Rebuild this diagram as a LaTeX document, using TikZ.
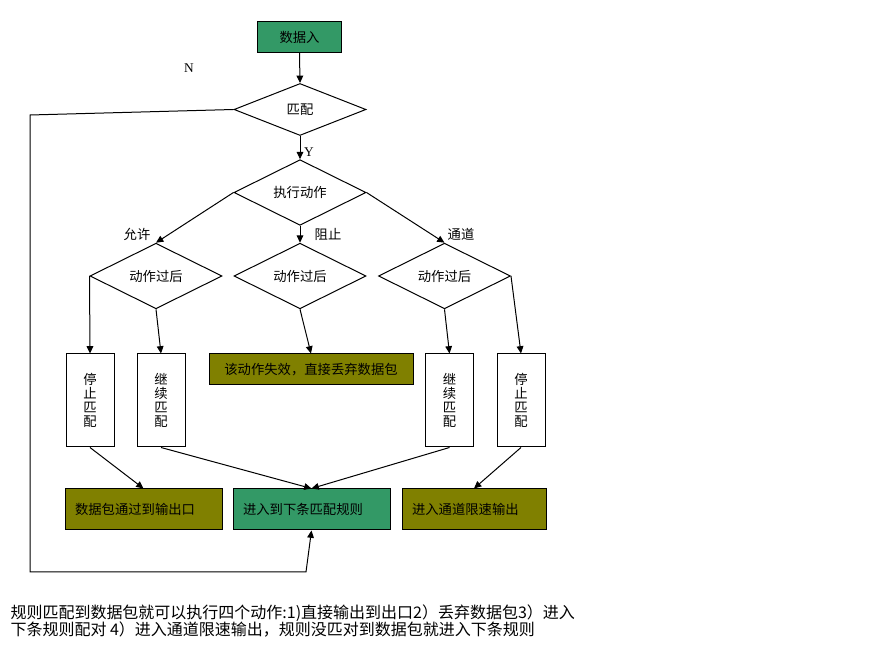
\documentclass[tikz,border=0pt]{standalone}
\usepackage{fontspec}
\setmainfont{Noto Sans CJK SC}
\newfontfamily\latinserif{Liberation Serif}
\usetikzlibrary{shapes.geometric,arrows.meta}

\definecolor{boxgreen}{RGB}{51,153,102}
\definecolor{boxolive}{RGB}{128,128,0}

\begin{document}
\begin{tikzpicture}[x=0.75pt, y=-0.75pt, line width=0.75pt,
    font=\fontsize{10pt}{12pt}\selectfont, >={Triangle[length=5.5pt,width=5pt]},
    decision/.style={draw, diamond, inner sep=0pt, minimum width=99pt, minimum height=39pt},
    vbox/.style={draw, align=center, inner sep=0pt, minimum width=36pt, minimum height=69.75pt,
      font=\fontsize{10pt}{10.5pt}\selectfont},
    endbox/.style={draw, align=left, inner xsep=7.5pt, minimum height=30.75pt}]
    \useasboundingbox (0,0) rectangle (869,666);

    \node[draw, fill=boxgreen, minimum width=63pt, minimum height=23.25pt] (in) at (299.5,37) {数据入};
    \node[decision] (match) at (300,109.5) {匹配};
    \node[decision] (act) at (300,192.5) {执行动作};
    \foreach \i/\x in {1/156, 2/300, 3/444.5} {
      \node[decision] (d\i) at (\x,276) {动作过后};
    }

    \node[vbox] (b1) at (90,400.5) {停\\止\\匹\\配};
    \node[vbox] (b2) at (161,400.5) {继\\续\\匹\\配};
    \node[draw, fill=boxolive, minimum width=153pt, minimum height=23.25pt] (drop) at (311,369.5)
      {该动作失效，直接丢弃数据包};
    \node[vbox] (b4) at (449.5,400.5) {继\\续\\匹\\配};
    \node[vbox] (b5) at (521,400.5) {停\\止\\匹\\配};

    \node[endbox, fill=boxolive, text width=102.75pt] (out) at (143.5,509.5) {数据包通过到输出口};
    \node[endbox, fill=boxgreen, text width=102.75pt] (next) at (311.5,509.5) {进入到下条匹配规则};
    \node[endbox, fill=boxolive, text width=93pt] (chan) at (474,509.5) {进入通道限速输出};

    % labels
    \node[font=\latinserif] (nlabel) at (189,68) {N};
    \node[font=\latinserif] (ylabel) at (309,152) {Y};
    \node (allow) at (137,234) {允许};
    \node (block) at (328,234) {阻止};
    \node (pass) at (461,234) {通道};

    \draw[->] (in.south) -- (match.north);
    \draw[->] (match.south) -- (act.north);
    \draw[->] (act.west) -- (d1.north);
    \draw[->] (act.south) -- (d2.north);
    \draw[->] (act.east) -- (d3.north);
    \draw[->] (d1.west) -- (b1.north);
    \draw[->] (d1.south) -- (b2.north);
    \draw[->] (d2.south) -- (drop.north);
    \draw[->] (d3.south) -- (b4.north);
    \draw[->] (d3.east) -- (b5.north);
    \draw[->] (b1.south) -- (out.north);
    \draw[->] (b2.south) -- (next.north);
    \draw[->] (b4.south) -- (next.north);
    \draw[->] (b5.south) -- (chan.north);

    % no match: back to next rule
    \coordinate (fbtop) at (30,115);
    \coordinate (fbbot) at (30,572);
    \coordinate (fbend) at (306,572);
    \draw[->] (match.west) -- (fbtop) -- (fbbot) -- (fbend) -- (next.south);

    \node[anchor=west, align=left, inner sep=0pt, font=\fontsize{12pt}{12.75pt}\selectfont] (note) at (10,621.5)
      {规则匹配到数据包就可以执行四个动作:1)直接输出到出口2）丢弃数据包3）进入\\
       下条规则配对 4）进入通道限速输出，规则没匹对到数据包就进入下条规则};
  \end{tikzpicture}
\end{document}
